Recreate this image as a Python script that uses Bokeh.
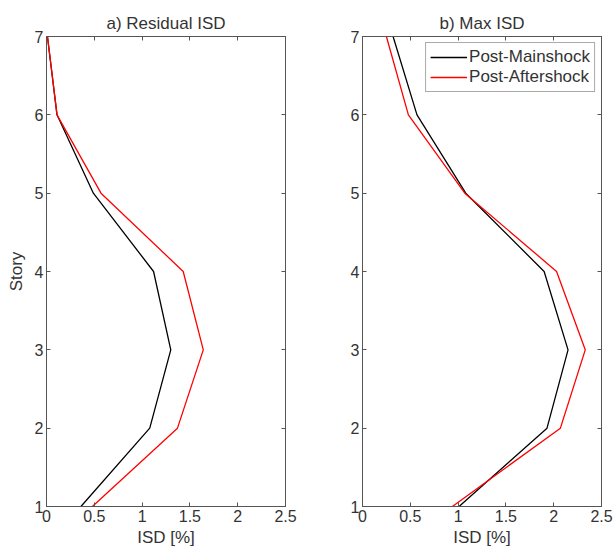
from bokeh.plotting import figure
from bokeh.layouts import row
from bokeh.models import Range1d, FixedTicker, LinearAxis, Legend, LegendItem
from bokeh.embed import file_html
from bokeh.resources import INLINE

stories = [1, 2, 3, 4, 5, 6, 7]
res_main = [0.36, 1.08, 1.30, 1.12, 0.49, 0.11, 0.01]
res_after = [0.48, 1.37, 1.64, 1.43, 0.57, 0.11, 0.01]
max_main = [1.01, 1.93, 2.15, 1.90, 1.08, 0.57, 0.32]
max_after = [0.94, 2.07, 2.33, 2.03, 1.07, 0.48, 0.25]

x_ticks = [0, 0.5, 1, 1.5, 2, 2.5]
x_tick_labels = ["0", "0.5", "1", "1.5", "2", "2.5"]
y_ticks = [1, 2, 3, 4, 5, 6, 7]

FONT = "Liberation Sans"
AX_COLOR = "#555555"
TXT_COLOR = "#333333"
TICK_FS = "16px"
LABEL_FS = "17px"


def style_axis(ax, show_labels=True):
    ax.axis_line_color = AX_COLOR
    ax.major_tick_line_color = AX_COLOR
    ax.major_tick_in = 4
    ax.major_tick_out = 0
    ax.minor_tick_line_color = None
    ax.major_label_text_font = FONT
    ax.major_label_text_font_size = TICK_FS
    ax.major_label_text_color = TXT_COLOR
    ax.axis_label_text_font = FONT
    ax.axis_label_text_font_size = LABEL_FS
    ax.axis_label_text_color = TXT_COLOR
    ax.axis_label_text_font_style = "normal"
    ax.major_label_standoff = 3
    if not show_labels:
        ax.major_label_text_font_size = "1px"
        ax.major_label_text_color = None
        ax.major_label_standoff = 0


def make_panel(title, xm, xa, left_border, right_border, ylabel=None):
    p = figure(frame_width=239, frame_height=470,
               x_range=Range1d(0, 2.5), y_range=Range1d(1, 7),
               output_backend="svg", toolbar_location=None,
               min_border_left=left_border, min_border_right=right_border,
               min_border_top=36, min_border_bottom=44)
    p.title.text = title
    p.title.align = "center"
    p.title.text_font = FONT
    p.title.text_font_size = LABEL_FS
    p.title.text_font_style = "normal"
    p.title.text_color = TXT_COLOR
    p.title.standoff = 8
    p.xgrid.visible = False
    p.ygrid.visible = False
    p.outline_line_color = AX_COLOR
    p.background_fill_color = "white"
    p.border_fill_color = "white"

    p.xaxis.ticker = FixedTicker(ticks=x_ticks)
    p.xaxis.major_label_overrides = {float(t): l for t, l in zip(x_ticks, x_tick_labels)}
    p.yaxis.ticker = FixedTicker(ticks=y_ticks)
    p.xaxis.axis_label = "ISD [%]"
    p.xaxis.axis_label_standoff = 3
    if ylabel:
        p.yaxis.axis_label = ylabel
        p.yaxis.axis_label_standoff = 6
    style_axis(p.xaxis[0])
    style_axis(p.yaxis[0])

    top = LinearAxis(ticker=FixedTicker(ticks=x_ticks))
    style_axis(top, show_labels=False)
    p.add_layout(top, "above")
    right = LinearAxis(ticker=FixedTicker(ticks=y_ticks))
    style_axis(right, show_labels=False)
    p.add_layout(right, "right")

    r1 = p.line(xm, stories, line_color="black", line_width=1.3)
    r2 = p.line(xa, stories, line_color="red", line_width=1.3)
    return p, r1, r2


p1, _, _ = make_panel("a) Residual ISD", res_main, res_after, 46, 20, ylabel="Story")
p2, m, a = make_panel("b) Max ISD", max_main, max_after, 57, 13)

legend = Legend(items=[LegendItem(label="Post-Mainshock", renderers=[m]),
                       LegendItem(label="Post-Aftershock", renderers=[a])],
                location="top_right")
legend.label_text_font = FONT
legend.label_text_font_size = LABEL_FS
legend.label_text_color = TXT_COLOR
legend.glyph_width = 37
legend.glyph_height = 20
legend.label_height = 20
legend.label_standoff = 2
legend.padding = 4
legend.spacing = 0
legend.margin = 6
legend.border_line_color = AX_COLOR
legend.border_line_width = 1
legend.background_fill_alpha = 1.0
p2.add_layout(legend)

layout = row(p1, p2, spacing=0)
open("out.html", "w").write(file_html(layout, INLINE))
